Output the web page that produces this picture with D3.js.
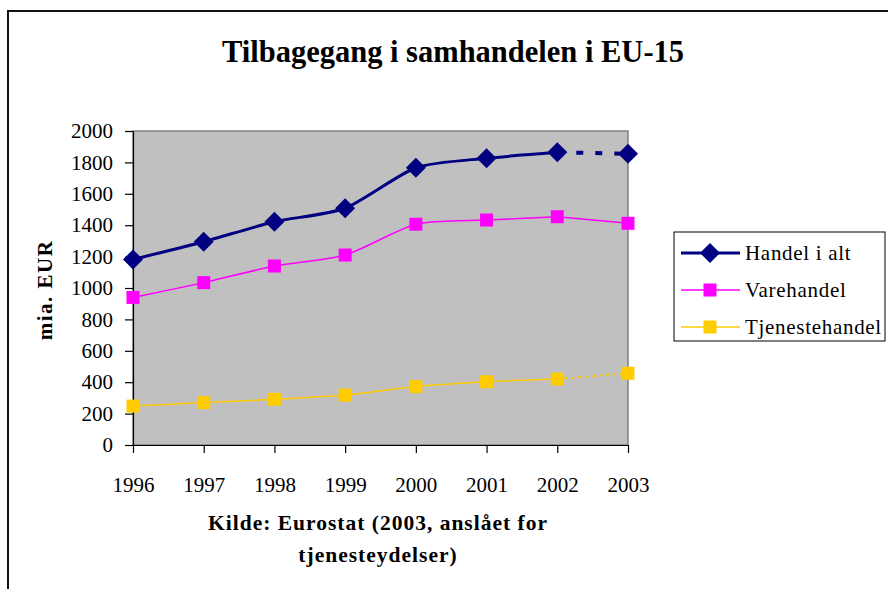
<!DOCTYPE html>
<meta charset="utf-8">
<style>
  body { margin: 0; background: #fff; }
  text { font-family: "Liberation Serif", "Times New Roman", serif; fill: #000; }
</style>
<svg width="888" height="589"></svg>
<script src="https://d3js.org/d3.v7.min.js"></script>
<script>

// data (mia. EUR)
var years = ["1996", "1997", "1998", "1999", "2000", "2001", "2002", "2003"];
var handelIAlt = [1182, 1295, 1422, 1508, 1766, 1826, 1864, 1855];
var varehandel = [940, 1034, 1140, 1210, 1406, 1433, 1454, 1412];
var tjenestehandel = [248, 270, 291, 318, 372, 403, 420, 457];
var yTicks = [0, 200, 400, 600, 800, 1000, 1200, 1400, 1600, 1800, 2000];
var seriesNames = ["Handel i alt", "Varehandel", "Tjenestehandel"];

var series = [
  { name: seriesNames[0], values: handelIAlt, color: "#000080", width: 3, marker: "diamond", lastDash: "7,12", lastWidth: 4 },
  { name: seriesNames[1], values: varehandel, color: "#FF00FF", width: 1.5, marker: "square", lastDash: null, lastWidth: 1.5 },
  { name: seriesNames[2], values: tjenestehandel, color: "#FFCC00", width: 1.5, marker: "square", lastDash: "3,4", lastWidth: 2 }
];

var svg = d3.select("svg");
var plot = { left: 133, top: 131, right: 628, bottom: 445 };

var x = d3.scalePoint().domain(years).range([plot.left, plot.right]);
var y = d3.scaleLinear().domain([0, 2000]).range([plot.bottom, plot.top]);

// outer frame (only top and left visible)
svg.append("path")
    .attr("d", "M8,589V11H888")
    .attr("fill", "none")
    .attr("stroke", "#111")
    .attr("stroke-width", 2);

// title
svg.append("text")
    .attr("x", 453).attr("y", 62)
    .attr("text-anchor", "middle")
    .style("font-size", "30.5px")
    .style("font-weight", "bold")
    .text("Tilbagegang i samhandelen i EU-15");

// plot background
svg.append("rect")
    .attr("x", plot.left).attr("y", plot.top)
    .attr("width", plot.right - plot.left)
    .attr("height", plot.bottom - plot.top)
    .attr("fill", "#C0C0C0")
    .attr("stroke", "#808080")
    .attr("stroke-width", 1.5);

// axes
var yAxis = svg.append("g")
    .attr("transform", "translate(" + plot.left + ",0)")
    .call(d3.axisLeft(y).tickValues(yTicks).tickSize(8).tickSizeOuter(0).tickPadding(12).tickFormat(d3.format("d")));

var xAxis = svg.append("g")
    .attr("transform", "translate(0," + plot.bottom + ")")
    .call(d3.axisBottom(x).tickSize(8).tickSizeOuter(0).tickPadding(24));

[yAxis, xAxis].forEach(function(ax) {
  ax.selectAll("path, line").attr("stroke", "#000").attr("stroke-width", 1.2);
  ax.selectAll("text")
      .style("font-family", "'Liberation Serif', 'Times New Roman', serif")
      .style("font-size", "21px")
      .attr("fill", "#000");
});

// y axis title
svg.append("text")
    .attr("transform", "translate(52,290) rotate(-90)")
    .attr("text-anchor", "middle")
    .style("font-size", "21px")
    .style("font-weight", "bold")
    .style("letter-spacing", "1.5px")
    .text("mia. EUR");

// lines
var line = d3.line()
    .x(function(d, i) { return x(years[i]); })
    .y(function(d) { return y(d); })
    .curve(d3.curveCardinal.tension(0.3));

var n = years.length;

series.forEach(function(s) {
  var solid = s.values.slice(0, n - 1);
  svg.append("path")
      .attr("d", line(solid))
      .attr("fill", "none")
      .attr("stroke", s.color)
      .attr("stroke-width", s.width);

  svg.append("line")
      .attr("x1", x(years[n - 2])).attr("y1", y(s.values[n - 2]))
      .attr("x2", x(years[n - 1])).attr("y2", y(s.values[n - 1]))
      .attr("stroke", s.color)
      .attr("stroke-width", s.lastWidth)
      .attr("stroke-dasharray", s.lastDash);
});

function drawMarker(g, type, cx, cy, color) {
  if (type === "diamond") {
    g.append("path")
        .attr("d", "M" + cx + "," + (cy - 10) + "L" + (cx + 10) + "," + cy + "L" + cx + "," + (cy + 10) + "L" + (cx - 10) + "," + cy + "Z")
        .attr("fill", color);
  } else {
    g.append("rect")
        .attr("x", cx - 6.5).attr("y", cy - 6.5)
        .attr("width", 13).attr("height", 13)
        .attr("fill", color);
  }
}

var markers = svg.append("g");
series.forEach(function(s) {
  s.values.forEach(function(v, i) {
    drawMarker(markers, s.marker, x(years[i]), y(v), s.color);
  });
});

// legend
var legend = svg.append("g");
legend.append("rect")
    .attr("x", 674).attr("y", 232)
    .attr("width", 211).attr("height", 109)
    .attr("fill", "#fff")
    .attr("stroke", "#000")
    .attr("stroke-width", 1);

var legendRows = [253, 290, 327];
series.forEach(function(s, i) {
  var ly = legendRows[i];
  legend.append("line")
      .attr("x1", 681).attr("x2", 740)
      .attr("y1", ly).attr("y2", ly)
      .attr("stroke", s.color)
      .attr("stroke-width", s.width);
  drawMarker(legend, s.marker, 710, ly, s.color);
  legend.append("text")
      .attr("x", 745).attr("y", ly + 7)
      .style("font-size", "21px")
      .style("letter-spacing", "0.7px")
      .text(s.name);
});

// source note
var note = svg.append("text")
    .attr("text-anchor", "middle")
    .style("font-size", "21.5px")
    .style("font-weight", "bold")
    .style("letter-spacing", "1px");
note.append("tspan").attr("x", 378).attr("y", 530).text("Kilde: Eurostat (2003, anslået for");
note.append("tspan").attr("x", 378).attr("y", 562).text("tjenesteydelser)");

</script>
